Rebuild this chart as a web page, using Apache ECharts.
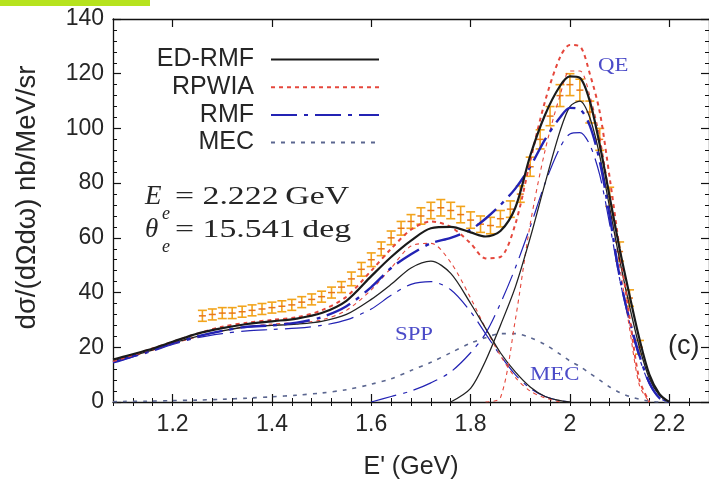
<!DOCTYPE html>
<html>
<head>
<meta charset="utf-8">
<script src="https://cdn.jsdelivr.net/npm/echarts@6/dist/echarts.min.js"></script>
<style>
  html, body { margin: 0; padding: 0; background: #ffffff; }
  #chart { width: 709px; height: 488px; }
</style>
</head>
<body>
<div id="chart"></div>
<script>
// Scattered electron energy E' (GeV) on which the model curves are tabulated
const ePrime = [1.08, 1.10, 1.15, 1.20, 1.25, 1.30, 1.35, 1.40, 1.45, 1.50, 1.55, 1.60,
                1.64, 1.68, 1.72, 1.76, 1.80, 1.83, 1.86, 1.89, 1.92, 1.95, 1.98, 2.00,
                2.02, 2.04, 2.06, 2.08, 2.10, 2.12, 2.14, 2.16, 2.18, 2.20];

// Total cross sections (QE + SPP + MEC), nb/MeV/sr
const edrmfTotal = [15.5, 16.5, 19, 22, 25, 27, 28.5, 29.5, 30.5, 32.5, 37, 46,
                    53, 59, 63.5, 64, 62, 60.5, 62.5, 71, 90, 105, 115.5, 119,
                    118.5, 110, 94, 75, 56, 39, 23, 10, 3, 0];
const rpwiaTotal = [15, 16, 19, 22, 25, 27.5, 29, 30, 31, 33.5, 38.5, 48,
                    56, 63, 66, 64, 58, 52.5, 53, 65, 88, 110, 126, 130.5,
                    130, 120, 106, 82, 56, 31, 8, 0, null, null];
const rmfTotal   = [14.5, 15.5, 18.5, 21.5, 24, 26, 27.5, 28, 29, 31, 35, 42,
                    49, 54, 58, 60, 63, 67, 72, 78, 86, 96, 104, 107.5,
                    107, 101, 88, 68, 46, 30, 17, 7, 1.5, 0];

// Quasielastic contributions
const edrmfQE = [null, null, null, null, null, null, null, null, null, null, null, null,
                 null, null, null, 0, 5, 15, 28, 42, 60, 80, 99, 108,
                 110, 104, 90, 71, 52, 35, 20, 8.5, 2.5, 0];
const rpwiaQE = [null, null, null, null, null, null, null, null, null, null, null, null,
                 null, null, null, null, null, 0, 1.5, 30, 65, 92, 112, 121,
                 121, 112, 97, 75, 50, 27, 6, 0, null, null];
const rmfQE   = [null, null, null, null, null, null, null, null, null, null, null, 0,
                 2, 4, 7, 11, 18, 25, 36, 49, 64, 80, 93, 98,
                 98.5, 94, 83, 65, 45, 29, 16, 6.5, 1.5, 0];

// Single-pion production contributions
const edrmfSPP = [15.2, 16, 18.5, 21.5, 24, 26, 27.5, 28, 28.5, 29.5, 32, 37.5,
                  43, 49, 51.5, 47, 36, 27, 18, 11, 5.5, 2, 0.5, 0,
                  null, null, null, null, null, null, null, null, null, null];
const rpwiaSPP = [15, 15.8, 18.3, 21.3, 23.8, 26, 27.5, 28.5, 29, 30, 33.5, 41,
                  49, 57, 58, 51, 38, 27, 17, 9, 4, 1.5, 0, null,
                  null, null, null, null, null, null, null, null, null, null];
const rmfSPP   = [14.5, 15.5, 18, 21, 23.5, 25, 26, 26.5, 27, 28, 30, 34,
                  39, 43, 44, 41, 33, 25, 17, 10, 5, 2, 0.5, 0,
                  null, null, null, null, null, null, null, null, null, null];

// Meson-exchange-current contribution
const mecCurve = [0.1, 0.2, 0.3, 0.5, 0.7, 1, 1.4, 1.9, 2.5, 3.3, 4.5, 6.5,
                  8.5, 11.5, 14.5, 18, 21.5, 23.5, 25, 25, 23.5, 21, 17.5, 15,
                  13, 10.5, 8, 5.5, 3.5, 2, 1, 0.3, 0, 0];

// Measured cross section with uncertainties
const dataE   = [1.26, 1.28, 1.30, 1.32, 1.34, 1.36, 1.38, 1.40, 1.42, 1.44, 1.46, 1.48,
                 1.50, 1.52, 1.54, 1.56, 1.58, 1.60, 1.62, 1.64, 1.66, 1.68, 1.70, 1.72,
                 1.74, 1.76, 1.78, 1.80, 1.82, 1.84, 1.86, 1.88, 1.90, 1.92, 1.94, 1.96,
                 1.98, 2.00, 2.02, 2.04, 2.06, 2.08, 2.10, 2.12, 2.14];
const dataXS  = [31.5, 32, 32.5, 32.5, 33, 33.5, 34, 34.5, 35, 35.5, 36.5, 37.5,
                 38.5, 40, 42, 45, 48.5, 52, 56, 60, 63.5, 66, 68, 70,
                 71, 70, 68.5, 66.5, 65, 64.5, 67, 70.5, 76, 86, 96, 104.5,
                 112, 116, 114, 106, 96, 75, 55, 38, 20];
const dataErr = [2, 2, 2, 2, 2, 2, 2, 2, 2, 2, 2, 2,
                 2, 2, 2, 2.5, 2.5, 2.5, 2.5, 2.5, 2.5, 2.5, 3, 3,
                 3, 3, 3, 3, 3, 3, 3, 3, 3, 3.5, 3.5, 3.5,
                 4, 4, 4, 4, 4, 3.5, 3.5, 3, 2.5];

// Axis ticks
const xMajorTicks = [1.2, 1.4, 1.6, 1.8, 2.0, 2.2];
const xRange = [1.08, 2.28];
const yRange = [0, 140];

const pairs = (ys) => ePrime.map((e, i) => [e, ys[i] === null ? '-' : ys[i]]);

const FONT = 'Liberation Sans';
const SERIF = 'Liberation Serif';
const INK = '#262626';
const RED = '#e5473c';
const BLUE = '#2323b4';
const MECC = '#5b6690';
const LABEL_BLUE = '#4b4bc8';

const chart = echarts.init(document.getElementById('chart'), null, { renderer: 'canvas' });

const majorAxis = (pos, withLabels) => ({
  type: 'value', position: pos, min: xRange[0], max: xRange[1], gridIndex: 0,
  splitLine: { show: false },
  axisLine: { show: true, onZero: false, lineStyle: { color: '#111', width: 1.3 } },
  axisTick: { show: true, inside: true, length: 8, customValues: xMajorTicks,
              lineStyle: { color: '#111', width: 1.2 } },
  axisLabel: withLabels
    ? { show: true, customValues: xMajorTicks, margin: 11, fontFamily: FONT, fontSize: 23, color: INK,
        formatter: (v) => String(Math.round(v * 10) / 10) }
    : { show: false }
});
const minorAxis = (pos) => ({
  type: 'value', position: pos, min: xRange[0], max: xRange[1], interval: 0.04, gridIndex: 0,
  splitLine: { show: false },
  axisLine: { show: false },
  axisTick: { show: true, inside: true, length: 4, lineStyle: { color: '#111', width: 1 } },
  axisLabel: { show: false }
});

const xBottom = majorAxis('bottom', true);
xBottom.name = "E' (GeV)";
xBottom.nameLocation = 'middle';
xBottom.nameGap = 53;
xBottom.nameTextStyle = { fontFamily: FONT, fontSize: 25, color: INK };

const yAxisDef = (pos, withLabels) => ({
  type: 'value', position: pos, min: yRange[0], max: yRange[1], interval: 20,
  splitLine: { show: false },
  axisLine: { show: true, onZero: false, lineStyle: { color: '#111', width: 1.3 } },
  axisTick: { show: true, inside: true, length: 8, lineStyle: { color: '#111', width: 1.2 } },
  minorTick: { show: true, splitNumber: 5, length: 4, lineStyle: { color: '#111', width: 1 } },
  axisLabel: withLabels ? { show: true, margin: 9, fontFamily: FONT, fontSize: 23, color: INK } : { show: false }
});
const yLeft = yAxisDef('left', true);
yLeft.name = 'dσ/(dΩdω) nb/MeV/sr';
yLeft.nameLocation = 'middle';
yLeft.nameGap = 72;
yLeft.nameTextStyle = { fontFamily: FONT, fontSize: 27.5, color: INK, padding: [0, 0, 0, 26] };

const curve = (name, ys, color, type, width, z) => ({
  type: 'line', name, data: pairs(ys), xAxisIndex: 0, yAxisIndex: 0,
  showSymbol: false, symbol: 'none', smooth: 0.3,
  connectNulls: false, clip: true, silent: true, z: z || 3,
  lineStyle: { color, type, width },
  itemStyle: { color }
});

const errorBars = {
  type: 'custom', name: 'data', xAxisIndex: 0, yAxisIndex: 0, z: 2, silent: true, clip: true,
  data: dataE.map((e, i) => [e, dataXS[i], dataErr[i]]),
  renderItem: (params, api) => {
    const x = api.value(0), v = api.value(1), err = api.value(2);
    const hi = api.coord([x, v + err]);
    const lo = api.coord([x, v - err]);
    const mid = api.coord([x, v]);
    const cap = 4.5;
    const st = { stroke: '#f2a41c', lineWidth: 1.6 };
    return {
      type: 'group',
      children: [
        { type: 'line', shape: { x1: hi[0], y1: hi[1], x2: lo[0], y2: lo[1] }, style: st },
        { type: 'line', shape: { x1: hi[0] - cap, y1: hi[1], x2: hi[0] + cap, y2: hi[1] }, style: st },
        { type: 'line', shape: { x1: lo[0] - cap, y1: lo[1], x2: lo[0] + cap, y2: lo[1] }, style: st },
        { type: 'line', shape: { x1: mid[0] - 3.5, y1: mid[1], x2: mid[0] + 3.5, y2: mid[1] },
          style: { stroke: '#e8761a', lineWidth: 1.5 } }
      ]
    };
  }
};

const RMF_DASH = [26, 7, 4, 7];
const RED_DASH = [4, 4];
const MEC_DASH = [4, 6];

const option = {
  backgroundColor: '#ffffff',
  animation: false,
  grid: { left: 113, top: 19, width: 598, height: 383, containLabel: false },
  xAxis: [xBottom, minorAxis('bottom'), majorAxis('top', false), minorAxis('top')],
  yAxis: [yLeft, yAxisDef('right', false)],
  legend: {
    data: ['ED-RMF', 'RPWIA', 'RMF', 'MEC'],
    orient: 'vertical', align: 'right', right: 329, top: 47, padding: 0,
    itemWidth: 108, itemHeight: 18, itemGap: 2.7,
    selectedMode: false,
    itemStyle: { opacity: 0 },
    textStyle: { fontFamily: FONT, fontSize: 25, color: INK, padding: [0, 12, 0, 0] }
  },
  series: [
    errorBars,
    curve('MEC', mecCurve, MECC, MEC_DASH, 1.6, 3),
    curve('RMF SPP', rmfSPP, BLUE, RMF_DASH, 1.2, 3),
    curve('RPWIA SPP', rpwiaSPP, RED, RED_DASH, 1.1, 3),
    curve('ED-RMF SPP', edrmfSPP, '#222', 'solid', 1.3, 3),
    curve('RMF QE', rmfQE, BLUE, RMF_DASH, 1.2, 3),
    curve('RPWIA QE', rpwiaQE, RED, RED_DASH, 1.1, 3),
    curve('ED-RMF QE', edrmfQE, '#222', 'solid', 1.3, 3),
    curve('RMF', rmfTotal, BLUE, RMF_DASH, 2.4, 4),
    curve('RPWIA', rpwiaTotal, RED, RED_DASH, 2, 4),
    curve('ED-RMF', edrmfTotal, '#1a1a1a', 'solid', 2.2, 5)
  ],
  graphic: [
    { type: 'rect', shape: { x: 0, y: 0, width: 150, height: 6 }, style: { fill: '#b6e31e' }, silent: true },
    // kinematics
    { type: 'text', x: 145, y: 210, style: { text: 'E', fontFamily: SERIF, fontStyle: 'italic', fontSize: 27, fill: INK, verticalAlign: 'bottom' } },
    { type: 'text', x: 162, y: 223, style: { text: 'e', fontFamily: SERIF, fontStyle: 'italic', fontSize: 18, fill: INK, verticalAlign: 'bottom' } },
    { type: 'text', x: 175, y: 210, scaleX: 1.3, style: { text: '= 2.222\u2009GeV', fontFamily: SERIF, fontSize: 26, fill: INK, verticalAlign: 'bottom' } },
    { type: 'text', x: 145, y: 243, style: { text: 'θ', fontFamily: SERIF, fontStyle: 'italic', fontSize: 27, fill: INK, verticalAlign: 'bottom' } },
    { type: 'text', x: 162, y: 256, style: { text: 'e', fontFamily: SERIF, fontStyle: 'italic', fontSize: 18, fill: INK, verticalAlign: 'bottom' } },
    { type: 'text', x: 175, y: 243, scaleX: 1.3, style: { text: '= 15.541\u2009deg', fontFamily: SERIF, fontSize: 26, fill: INK, verticalAlign: 'bottom' } },
    // component labels
    { type: 'text', x: 598, y: 66, scaleX: 1.2, style: { text: 'QE', fontFamily: SERIF, fontSize: 19, fill: LABEL_BLUE, verticalAlign: 'middle' } },
    { type: 'text', x: 395, y: 335, scaleX: 1.2, style: { text: 'SPP', fontFamily: SERIF, fontSize: 19, fill: LABEL_BLUE, verticalAlign: 'middle' } },
    { type: 'text', x: 530, y: 375, scaleX: 1.2, style: { text: 'MEC', fontFamily: SERIF, fontSize: 19, fill: LABEL_BLUE, verticalAlign: 'middle' } },
    { type: 'text', x: 668, y: 347, style: { text: '(c)', fontFamily: FONT, fontSize: 27, fill: INK, verticalAlign: 'middle' } }
  ]
};

chart.setOption(option);
</script>
</body>
</html>
